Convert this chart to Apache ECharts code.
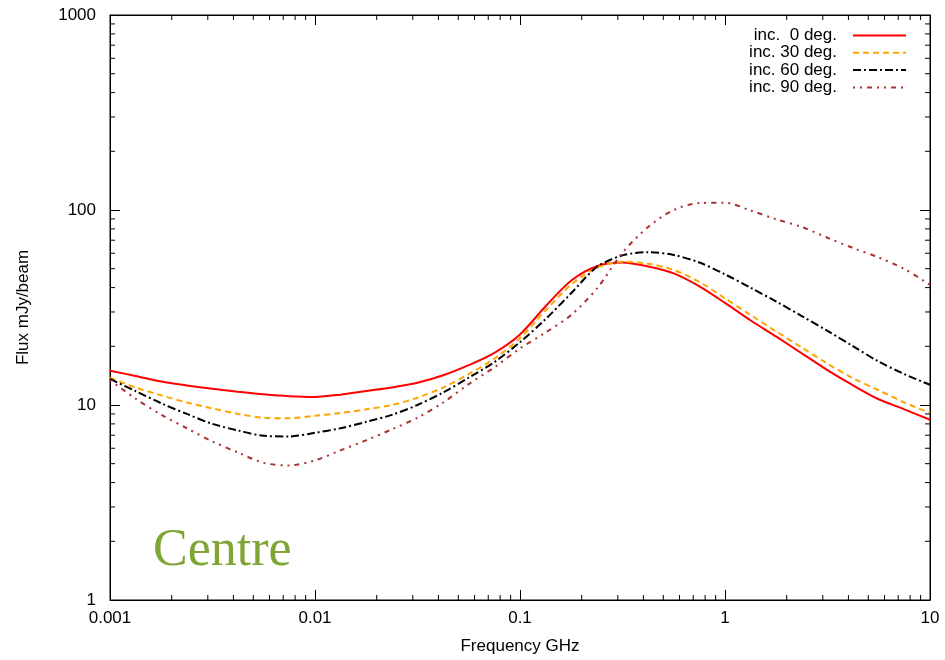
<!DOCTYPE html>
<html>
<head>
<meta charset="utf-8">
<script src="https://cdn.jsdelivr.net/npm/echarts@6/dist/echarts.min.js"></script>
<style>
html,body{margin:0;padding:0;background:#fff;}
#chart{width:945px;height:660px;}
</style>
</head>
<body>
<div id="chart"></div>
<script>
// Frequency (GHz) sample points (1/8 decade apart)
const freq = [0.001, 0.00133, 0.00178, 0.00237, 0.00316, 0.00422, 0.00562, 0.0075,
  0.01, 0.0133, 0.0178, 0.0237, 0.0316, 0.0422, 0.0562, 0.075,
  0.1, 0.133, 0.178, 0.237, 0.316, 0.422, 0.562, 0.75,
  1, 1.33, 1.78, 2.37, 3.16, 4.22, 5.62, 7.5, 10];
// Flux mJy/beam for each inclination
const inc0  = [15.0, 14.1, 13.2, 12.6, 12.1, 11.7, 11.35, 11.1,
  11.0, 11.3, 11.8, 12.3, 13.0, 14.2, 16.0, 18.5,
  23.0, 32.0, 43.5, 51.5, 53.8, 51.3, 47.3, 40.6,
  33.4, 27.2, 22.4, 18.4, 15.1, 12.6, 10.7, 9.5, 8.4];
const inc30 = [13.8, 12.3, 11.2, 10.3, 9.6, 9.0, 8.6, 8.55,
  8.8, 9.1, 9.5, 10.0, 10.9, 12.3, 14.4, 17.3,
  22.0, 30.5, 41.5, 50.5, 54.3, 53.0, 49.2, 42.8,
  35.2, 29.0, 23.8, 19.7, 16.3, 13.7, 11.9, 10.3, 9.1];
const inc60 = [13.6, 11.8, 10.2, 9.0, 8.0, 7.4, 6.95, 6.9,
  7.2, 7.6, 8.2, 8.9, 10.0, 11.6, 13.8, 16.6,
  21.0, 27.5, 37.5, 51.0, 58.5, 60.8, 58.8, 53.8,
  46.8, 40.0, 33.9, 28.6, 24.0, 20.0, 16.7, 14.4, 12.7];
const inc90 = [13.4, 10.8, 8.9, 7.6, 6.5, 5.7, 5.05, 4.9,
  5.2, 5.85, 6.6, 7.5, 8.6, 10.3, 12.8, 15.6,
  19.5, 23.5, 29.0, 39.5, 60.3, 81.9, 100.0, 108.5,
  109.0, 99.5, 89.6, 81.8, 72.1, 63.8, 57.1, 49.8, 41.3];

const seriesNames = ['inc.  0 deg.', 'inc. 30 deg.', 'inc. 60 deg.', 'inc. 90 deg.'];
const xTickLabels = ['0.001', '0.01', '0.1', '1', '10'];
const yTickLabels = ['1', '10', '100', '1000'];
// minor tick positions (gnuplot-style log minor ticks)
const xMinorTicks = [0.002,0.003,0.004,0.005,0.006,0.007,0.008,0.009,
  0.02,0.03,0.04,0.05,0.06,0.07,0.08,0.09,
  0.2,0.3,0.4,0.5,0.6,0.7,0.8,0.9,
  2,3,4,5,6,7,8,9];
const yMinorTicks = [2,3,4,5,6,7,8,9,20,30,40,50,60,70,80,90,200,300,400,500,600,700,800,900];

function pairs(ys){ return freq.map((x,i)=>[x, ys[i]]); }

const font = 'Liberation Sans, Arial, Helvetica, sans-serif';
const chart = echarts.init(document.getElementById('chart'), null, {renderer:'canvas'});

function minorX(params, api){
  const p = api.coord([api.value(0), 1]);
  const cs = params.coordSys;
  return {type:'group', children:[
    {type:'line', shape:{x1:p[0], y1:cs.y+cs.height, x2:p[0], y2:cs.y+cs.height-5}, style:{stroke:'#000', lineWidth:1}},
    {type:'line', shape:{x1:p[0], y1:cs.y, x2:p[0], y2:cs.y+5}, style:{stroke:'#000', lineWidth:1}}
  ]};
}
function minorY(params, api){
  const p = api.coord([0.001, api.value(1)]);
  const cs = params.coordSys;
  return {type:'group', children:[
    {type:'line', shape:{x1:cs.x, y1:p[1], x2:cs.x+5, y2:p[1]}, style:{stroke:'#000', lineWidth:1}},
    {type:'line', shape:{x1:cs.x+cs.width, y1:p[1], x2:cs.x+cs.width-5, y2:p[1]}, style:{stroke:'#000', lineWidth:1}}
  ]};
}

const lineCommon = {type:'line', showSymbol:false, symbol:'none', smooth:0.3, xAxisIndex:0, yAxisIndex:0, z:3};

chart.setOption({
  animation:false,
  backgroundColor:'#fff',
  grid:{left:110, right:15, top:15, bottom:59, show:true, borderColor:'#000', borderWidth:1, backgroundColor:'transparent'},
  legend:{
    data:seriesNames, orient:'vertical', right:38, top:27, align:'right', padding:0,
    itemWidth:53, itemHeight:10, itemGap:0.3,
    itemStyle:{color:'rgba(0,0,0,0)', borderColor:'rgba(0,0,0,0)', borderWidth:0, opacity:0},
    textStyle:{fontFamily:font, fontSize:17, color:'#000', lineHeight:17, padding:[0,11,0,0]}
  },
  xAxis:[{
    type:'log', logBase:10, min:0.001, max:10, position:'bottom',
    name:'Frequency GHz', nameLocation:'middle', nameGap:38,
    nameTextStyle:{fontFamily:font, fontSize:17, color:'#000'},
    axisLine:{show:true, lineStyle:{color:'#000', width:1}},
    axisTick:{show:true, inside:true, length:10, lineStyle:{color:'#000'}},
    axisLabel:{fontFamily:font, fontSize:17, color:'#000', margin:10,
      formatter:(v)=>{const k=Math.round(Math.log10(v))+3; return xTickLabels[k] !== undefined ? xTickLabels[k] : '';}},
    splitLine:{show:false}
  },{
    type:'log', logBase:10, min:0.001, max:10, position:'top',
    axisLine:{show:true, lineStyle:{color:'#000', width:1}},
    axisTick:{show:true, inside:true, length:10, lineStyle:{color:'#000'}},
    axisLabel:{show:false}, splitLine:{show:false}
  }],
  yAxis:[{
    type:'log', logBase:10, min:1, max:1000, position:'left',
    name:'Flux mJy/beam', nameLocation:'middle', nameGap:78, nameRotate:90,
    nameTextStyle:{fontFamily:font, fontSize:17, color:'#000'},
    axisLine:{show:true, lineStyle:{color:'#000', width:1}},
    axisTick:{show:true, inside:true, length:10, lineStyle:{color:'#000'}},
    axisLabel:{fontFamily:font, fontSize:17, color:'#000', margin:14,
      formatter:(v)=>{const k=Math.round(Math.log10(v)); return yTickLabels[k] !== undefined ? yTickLabels[k] : '';}},
    splitLine:{show:false}
  },{
    type:'log', logBase:10, min:1, max:1000, position:'right',
    axisLine:{show:true, lineStyle:{color:'#000', width:1}},
    axisTick:{show:true, inside:true, length:10, lineStyle:{color:'#000'}},
    axisLabel:{show:false}, splitLine:{show:false}
  }],
  graphic:[{
    type:'text', left:153, top:525, silent:true,
    style:{text:'Centre', font:'52px "Liberation Serif", "Times New Roman", serif', fill:'#7fa535'}
  }],
  series:[
    Object.assign({}, lineCommon, {name:seriesNames[0], data:pairs(inc0), color:'#ff0000',
      lineStyle:{color:'#ff0000', width:2, type:'solid'}}),
    Object.assign({}, lineCommon, {name:seriesNames[1], data:pairs(inc30), color:'#ffa500',
      lineStyle:{color:'#ffa500', width:2, type:[6,4]}}),
    Object.assign({}, lineCommon, {name:seriesNames[2], data:pairs(inc60), color:'#000000',
      lineStyle:{color:'#000000', width:2, type:[8,3,2,3]}}),
    Object.assign({}, lineCommon, {name:seriesNames[3], data:pairs(inc90), color:'#a83232',
      lineStyle:{color:'#a83232', width:2, type:[2,5,2,5,5,5]}}),
    {type:'custom', name:'xminor', silent:true, xAxisIndex:0, yAxisIndex:0, clip:false, z:4,
      data:xMinorTicks.map(v=>[v,1]), renderItem:minorX},
    {type:'custom', name:'yminor', silent:true, xAxisIndex:0, yAxisIndex:0, clip:false, z:4,
      data:yMinorTicks.map(v=>[0.001,v]), renderItem:minorY}
  ]
});
</script>
</body>
</html>
